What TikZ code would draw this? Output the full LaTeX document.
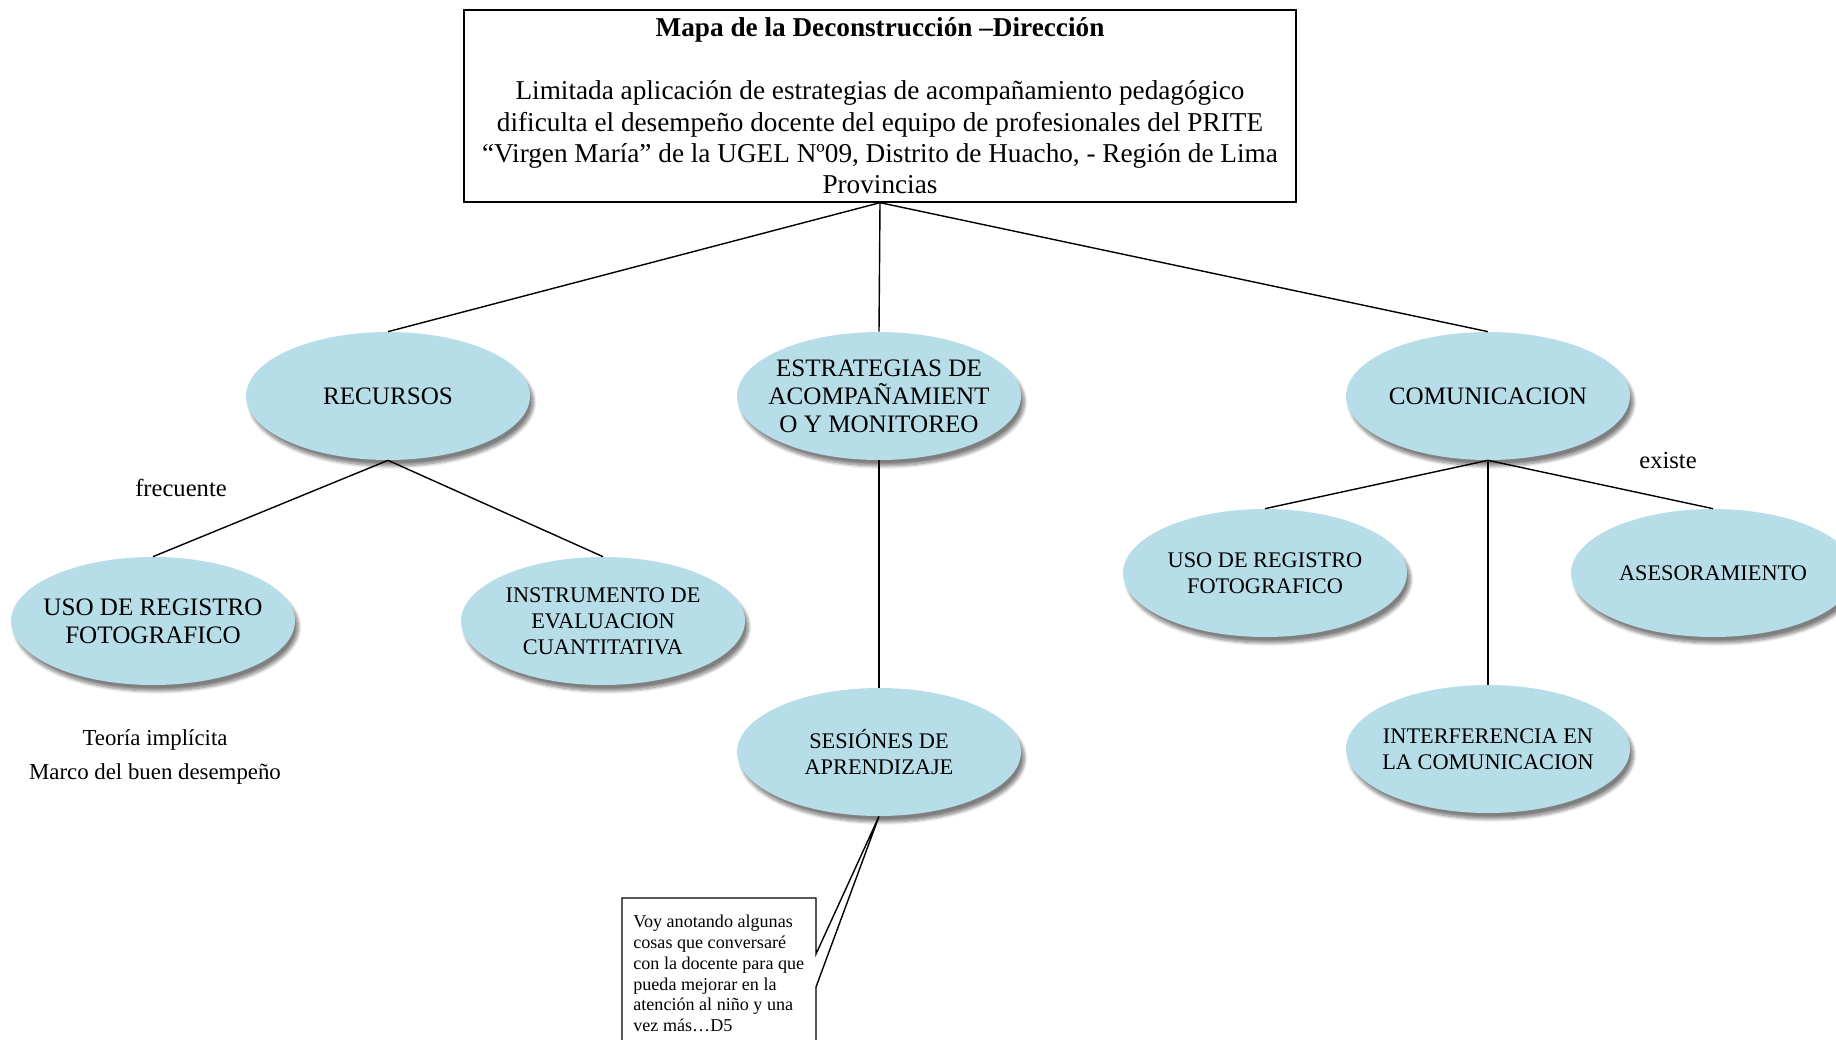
\documentclass[tikz,border=0pt]{standalone}
\usepackage{fontspec}
\setmainfont{Liberation Serif}
\usetikzlibrary{shapes.geometric,shadows.blur}
\definecolor{ovalblue}{RGB}{183,221,232}

\begin{document}
\begin{tikzpicture}[x=0.02cm,y=-0.02cm,
	oval/.style={ellipse,fill=ovalblue,minimum width=5.68cm,minimum height=2.56cm,inner xsep=-9pt,inner ysep=0pt,align=center,
		blur shadow={shadow xshift=0.07cm,shadow yshift=-0.12cm,shadow blur steps=8,shadow opacity=50}},
	big/.style={font=\fontsize{14.3}{16}\selectfont},
	small/.style={font=\fontsize{12.7}{14.8}\selectfont},
	link/.style={line width=0.8pt}]
	\useasboundingbox (0,0) rectangle (1836,1040);

	\node[draw,line width=0.8pt,minimum width=16.64cm,minimum height=3.84cm,align=center,font=\fontsize{15.5}{17.9}\selectfont] (titulo) at (880,106)
		{\textbf{Mapa de la Deconstrucción –Dirección}\\[17.9pt]
		Limitada aplicación de estrategias de acompañamiento pedagógico\\
		dificulta el desempeño docente del equipo de profesionales del PRITE\\
		“Virgen María” de la UGEL Nº09, Distrito de Huacho, - Región de Lima\\
		Provincias};

	\node[oval,big] (recursos) at (388,396) {RECURSOS};
	\node[oval,big] (estrategias) at (879,396) {ESTRATEGIAS DE\\ACOMPAÑAMIENT\\O Y MONITOREO};
	\node[oval,big] (comunicacion) at (1488,396) {COMUNICACION};

	\node[oval,big] (usoizq) at (153,621) {USO DE REGISTRO\\FOTOGRAFICO};
	\node[oval,small] (instrumento) at (603,621) {INSTRUMENTO DE\\EVALUACION\\CUANTITATIVA};
	\node[oval,small] (sesiones) at (879,752) {SESIÓNES DE\\APRENDIZAJE};
	\node[oval,small] (usoder) at (1265,573) {USO DE REGISTRO\\FOTOGRAFICO};
	\node[oval,small] (asesoramiento) at (1713,573) {ASESORAMIENTO};
	\node[oval,small] (interferencia) at (1488,749) {INTERFERENCIA EN\\LA COMUNICACION};

	\draw[link] (titulo.south) -- (recursos.north);
	\draw[link] (titulo.south) -- (estrategias.north);
	\draw[link] (titulo.south) -- (comunicacion.north);
	\draw[link] (recursos.south) -- (usoizq.north);
	\draw[link] (recursos.south) -- (instrumento.north);
	\draw[link] (estrategias.south) -- (sesiones.north);
	\draw[link] (comunicacion.south) -- (usoder.north);
	\draw[link] (comunicacion.south) -- (interferencia.north);
	\draw[link] (comunicacion.south) -- (asesoramiento.north);

	\node[font=\fontsize{14}{16}\selectfont] (frecuente) at (181,488) {frecuente};
	\node[font=\fontsize{14}{16}\selectfont] (existe) at (1668,460) {existe};
	\node[font=\fontsize{13}{15}\selectfont] (teoria) at (155,740) {Teoría implícita};
	\node[font=\fontsize{13}{15}\selectfont] (marco) at (155,774) {Marco del buen desempeño};

	\coordinate (n1) at (622,898);
	\coordinate (n2) at (816,898);
	\coordinate (n3) at (816,954);
	\coordinate (n4) at (816,987);
	\coordinate (n5) at (816,1060);
	\coordinate (n6) at (622,1060);
	\draw[line width=0.8pt,fill=white] (n1) -- (n2) -- (n3) -- (sesiones.south) -- (n4) -- (n5) -- (n6) -- cycle;
	\node[anchor=north west,inner sep=0pt,align=left,font=\fontsize{10.3}{11.8}\selectfont] (nota) at (633,915)
		{Voy anotando algunas\\cosas que conversaré\\con la docente para que\\pueda mejorar en la\\atención al niño y una\\vez más…D5};
\end{tikzpicture}
\end{document}
